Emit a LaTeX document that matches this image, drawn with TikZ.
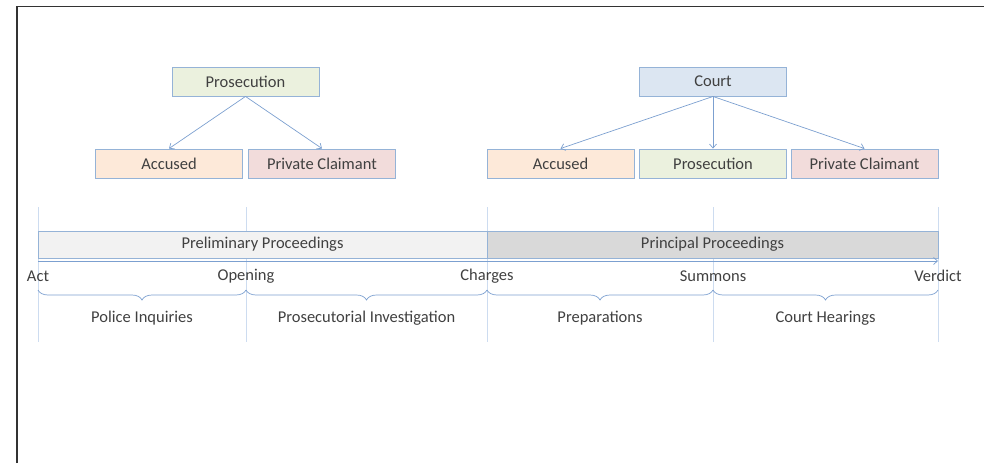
\documentclass[tikz,border=0pt]{standalone}
\usepackage{fontspec}
\setmainfont{Carlito}
\usepackage{xcolor}
\usetikzlibrary{positioning, arrows.meta}
\usetikzlibrary{decorations.pathreplacing}

\definecolor{txtgray}{RGB}{64,64,64}
\definecolor{boxline}{RGB}{149,179,215}
\definecolor{arrowblue}{RGB}{124,160,208}
\definecolor{guide}{RGB}{205,220,240}
\definecolor{fillgreen}{RGB}{235,241,222}
\definecolor{fillpeach}{RGB}{253,233,217}
\definecolor{fillpink}{RGB}{242,220,219}
\definecolor{fillblue}{RGB}{220,230,242}
\definecolor{filllight}{RGB}{242,242,242}
\definecolor{filldark}{RGB}{217,217,217}

\begin{document}
\begin{tikzpicture}[x=1pt,y=-1pt,
    every node/.style={font=\fontsize{16.5}{19}\selectfont, text=txtgray},
    party/.style={draw=boxline, line width=0.9pt, minimum width=147pt, minimum height=29pt, inner sep=0pt},
    phase/.style={draw=boxline, line width=0.9pt, minimum height=27pt, inner sep=0pt},
    link/.style={draw=arrowblue, line width=0.7pt, -{Straight Barb[length=4pt,width=7pt]}},
    guideline/.style={draw=guide, line width=0.6pt},
    stagebrace/.style={draw=arrowblue, line width=0.7pt, decorate, decoration={brace, mirror, amplitude=10pt}}]
    \useasboundingbox (0,0) rectangle (984,463);

    % frame
    \draw[line width=1.3pt, black!80] (17,463) -- (17,6.5) -- (984,6.5);

    % guide lines
    \foreach \x/\name in {38/act, 246/open, 487/charge, 713/summon, 938/verdict} {
        \coordinate (\name-top) at (\x,207);
        \coordinate (\name-bot) at (\x,342);
        \coordinate (\name) at (\x,261);
        \coordinate (\name-br) at (\x,290);
        \draw[guideline] (\name-top) -- (\name-bot);
    }

    % preliminary side
    \node[party, fill=fillgreen] (prosL) at (245.5,81.5) {Prosecution};
    \node[party, fill=fillpeach] (accL) at (169,163.5) {Accused};
    \node[party, fill=fillpink] (claimL) at (322,163.5) {Private Claimant};
    \draw[link] (prosL.south) -- (accL.north);
    \draw[link] (prosL.south) -- (claimL.north);

    % principal side
    \node[party, fill=fillblue] (court) at (713,81.5) {Court};
    \node[party, fill=fillpeach] (accR) at (560.5,163.5) {Accused};
    \node[party, fill=fillgreen] (prosR) at (713,163.5) {Prosecution};
    \node[party, fill=fillpink] (claimR) at (864.5,163.5) {Private Claimant};
    \draw[link] (court.south) -- (accR.north);
    \draw[link] (court.south) -- (prosR.north);
    \draw[link] (court.south) -- (claimR.north);

    % proceedings bar
    \node[phase, fill=filllight, minimum width=449pt] (prelim) at (262.5,244.5) {Preliminary Proceedings};
    \node[phase, fill=filldark, minimum width=451pt] (princ) at (712.5,244.5) {Principal Proceedings};
    \draw[link] (act) -- (verdict);

    % milestones
    \node (tAct) at (38,276) {Act};
    \node (tOpen) at (246,276) {Opening};
    \node (tCharge) at (487,276) {Charges};
    \node (tSummon) at (713,276) {Summons};
    \node (tVerdict) at (938,276) {Verdict};

    % stages
    \draw[stagebrace] (act-br) -- (open-br);
    \draw[stagebrace] (open-br) -- (charge-br);
    \draw[stagebrace] (charge-br) -- (summon-br);
    \draw[stagebrace] (summon-br) -- (verdict-br);
    \node (police) at (142,318) {Police Inquiries};
    \node (invest) at (366.5,318) {Prosecutorial Investigation};
    \node (prep) at (600,318) {Preparations};
    \node (hear) at (825.5,318) {Court Hearings};
\end{tikzpicture}
\end{document}
